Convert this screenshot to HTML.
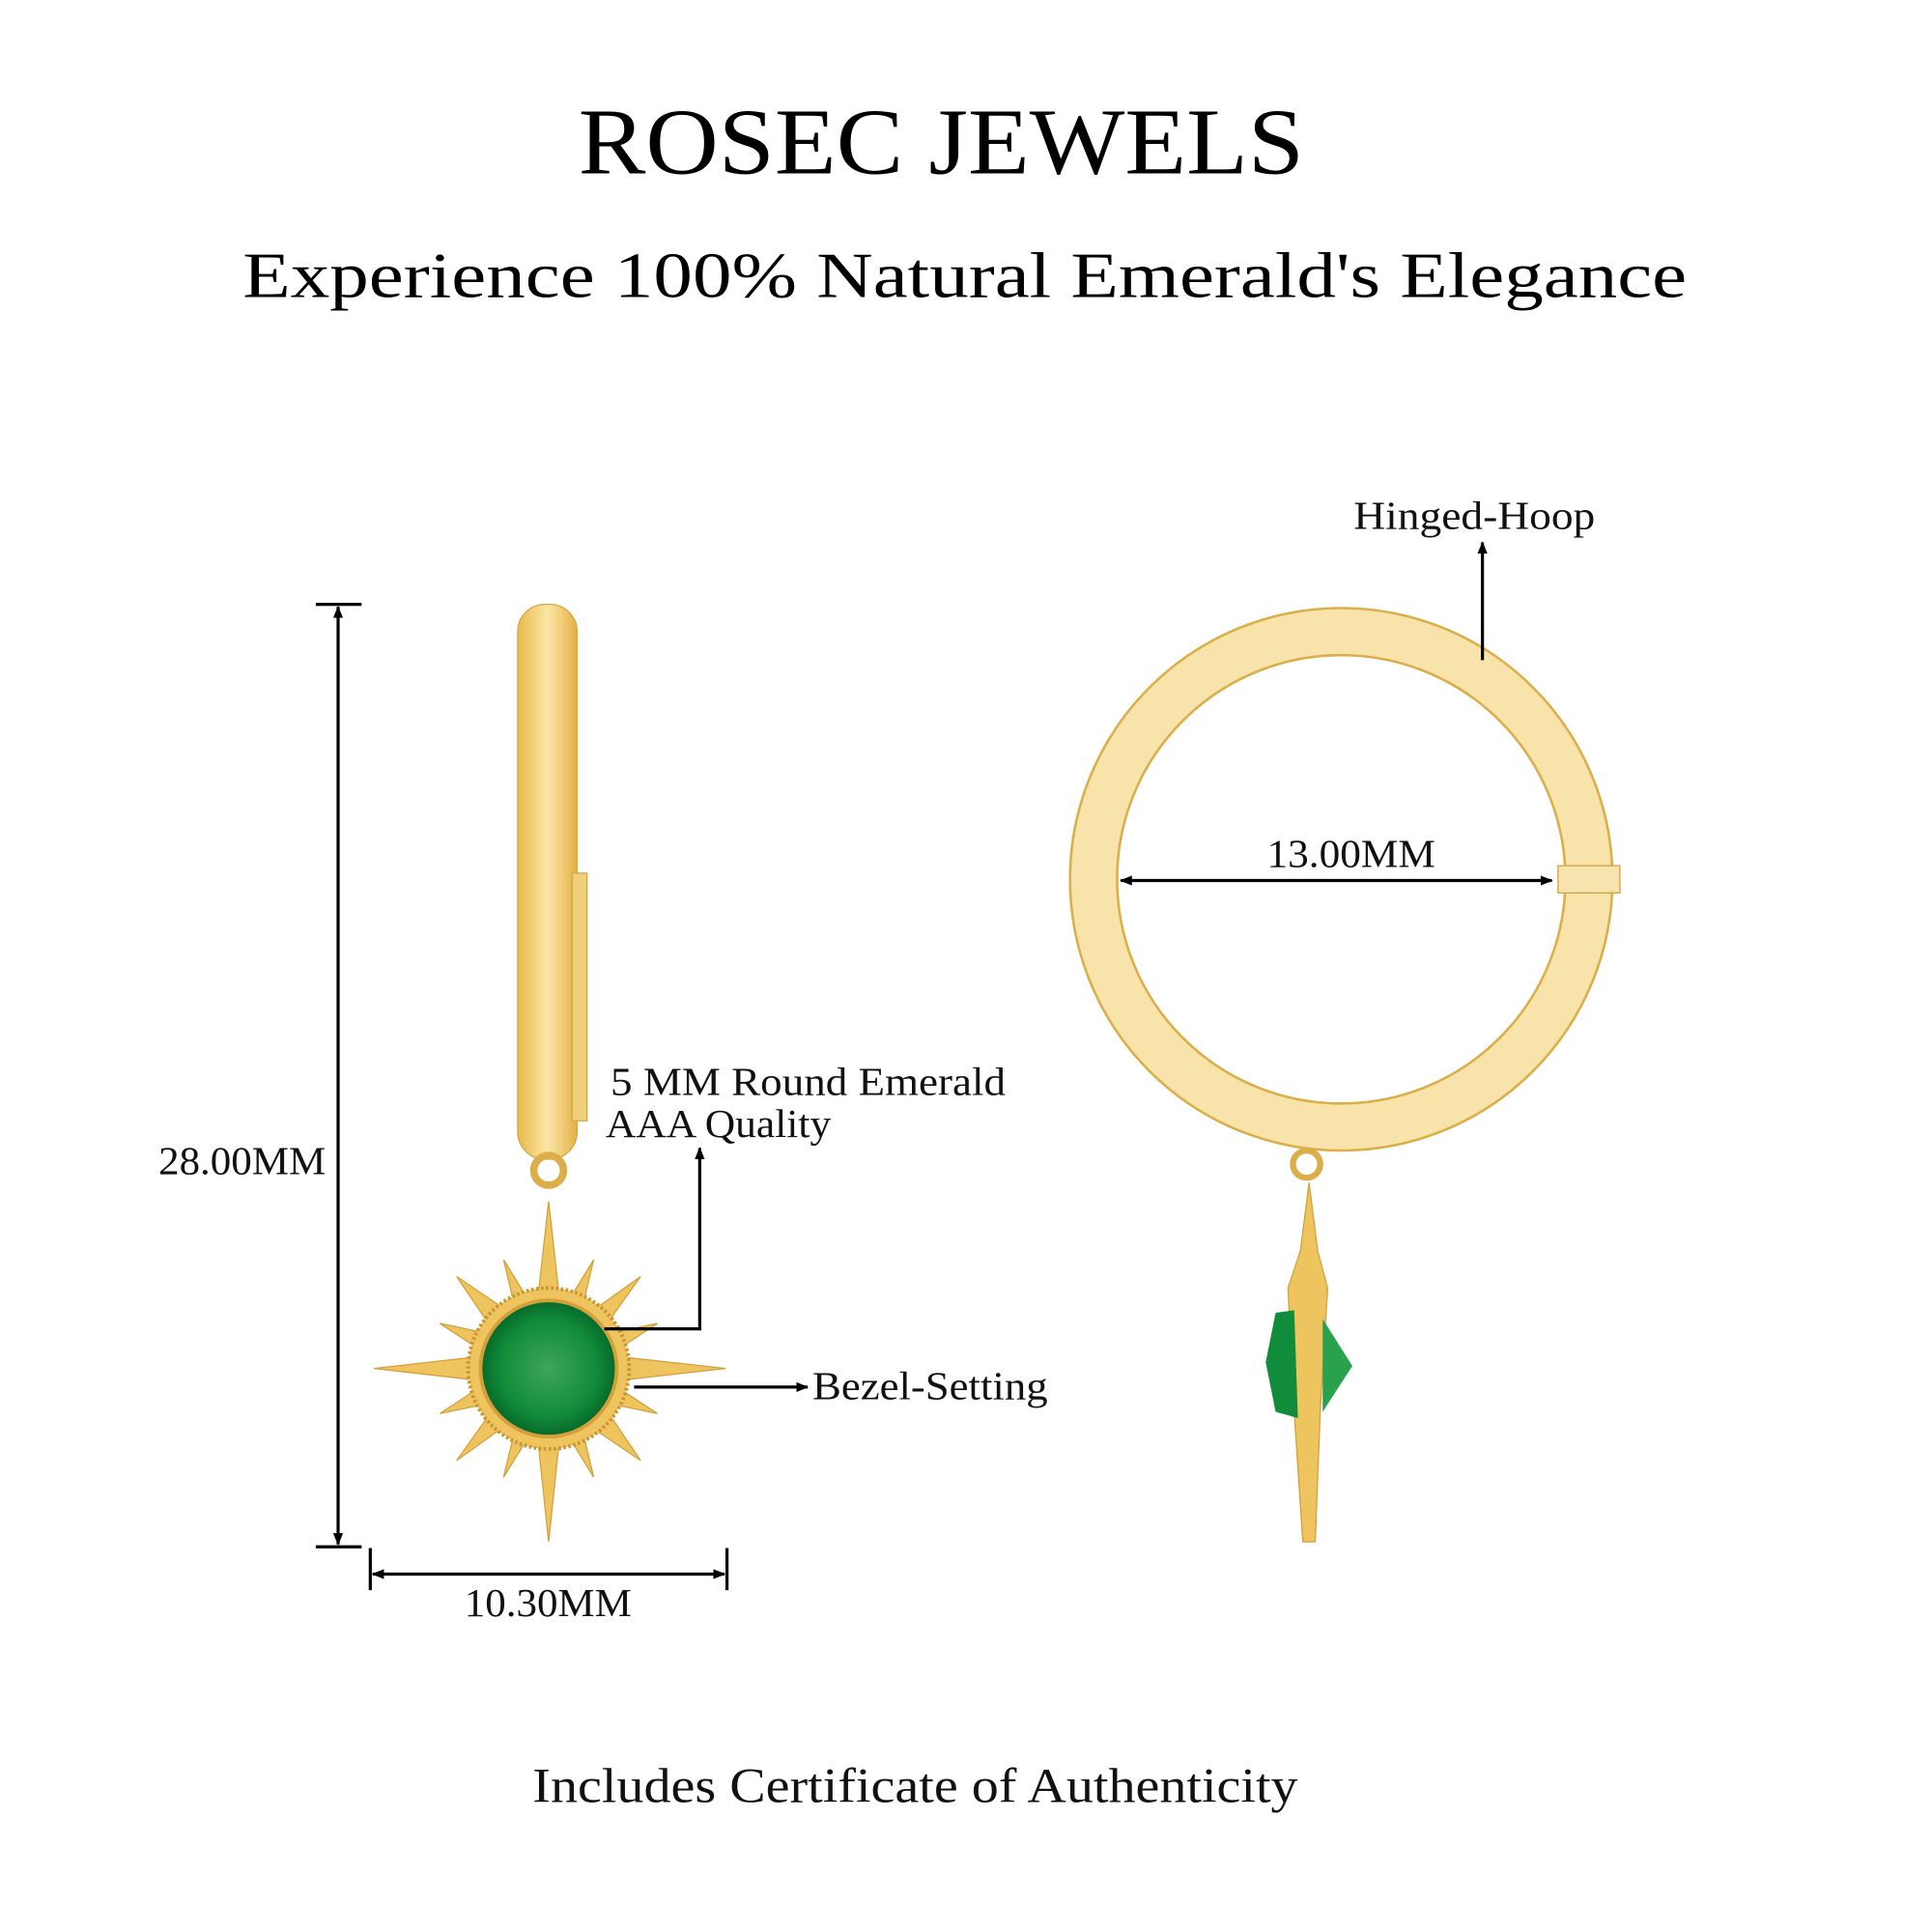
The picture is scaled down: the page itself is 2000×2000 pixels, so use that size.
<!DOCTYPE html>
<html><head><style>html,body{margin:0;padding:0;background:#fff}svg{display:block}</style></head><body>
<svg width="2000" height="2000" viewBox="0 0 1560 1560" xmlns="http://www.w3.org/2000/svg" font-family="'Liberation Serif', serif">
<defs>
<linearGradient id="g1" x1="0" x2="1"><stop offset="0" stop-color="#e9b94a"/><stop offset=".5" stop-color="#fbe6a6"/><stop offset="1" stop-color="#e3b045"/></linearGradient>
<radialGradient id="em"><stop offset="0" stop-color="#3fa55a"/><stop offset=".7" stop-color="#118c3a"/><stop offset="1" stop-color="#06682a"/></radialGradient>
<marker id="a" markerWidth="10" markerHeight="10" refX="9" refY="5" orient="auto-start-reverse" markerUnits="userSpaceOnUse"><path d="M0,1 L10,5 L0,9z" fill="#000"/></marker>
</defs>
<text x="467" y="140" font-size="76" textLength="586" lengthAdjust="spacingAndGlyphs">ROSEC JEWELS</text>
<text x="196" y="240" font-size="52" textLength="1166" lengthAdjust="spacingAndGlyphs">Experience 100% Natural Emerald's Elegance</text>

<!-- left hoop -->
<rect x="418" y="488" width="48" height="448" rx="22" fill="url(#g1)" stroke="#d9a640"/>
<rect x="462" y="705" width="12" height="200" fill="#f0cf7a" stroke="#d9a640"/>
<circle cx="443" cy="945" r="12" fill="none" stroke="#dcae4a" stroke-width="6"/>
<!-- sun -->
<g fill="#eec45e" stroke="#d4a03c" stroke-width="1">
<polygon points="443,970 433,1060 453,1060"/>
<polygon points="443,1245 433,1150 453,1150"/>
<polygon points="302,1105 390,1095 390,1115"/>
<polygon points="586,1105 496,1095 496,1115"/>
<g transform="rotate(45 443 1105)"><polygon points="443,1000 433,1060 453,1060"/><polygon points="443,1210 433,1150 453,1150"/><polygon points="338,1105 390,1095 390,1115"/><polygon points="548,1105 496,1095 496,1115"/></g>
<g transform="rotate(22.5 443 1105)"><polygon points="443,1010 435,1060 451,1060"/><polygon points="443,1200 435,1150 451,1150"/><polygon points="348,1105 390,1097 390,1113"/><polygon points="538,1105 496,1097 496,1113"/></g>
<g transform="rotate(-22.5 443 1105)"><polygon points="443,1010 435,1060 451,1060"/><polygon points="443,1200 435,1150 451,1150"/><polygon points="348,1105 390,1097 390,1113"/><polygon points="538,1105 496,1097 496,1113"/></g>
</g>
<circle cx="443" cy="1105" r="65" fill="#eec45e" stroke="#c99433" stroke-width="3" stroke-dasharray="2 2"/>
<circle cx="443" cy="1105" r="55" fill="url(#em)" stroke="#d4a03c" stroke-width="3"/>

<!-- right hoop -->
<circle cx="1083" cy="710" r="200" fill="none" stroke="#f8e4ab" stroke-width="38"/>
<circle cx="1083" cy="710" r="219" fill="none" stroke="#dcae4a" stroke-width="2"/>
<circle cx="1083" cy="710" r="181" fill="none" stroke="#dcae4a" stroke-width="2"/>
<rect x="1258" y="699" width="50" height="22" fill="#f6e3ae" stroke="#d4a03c"/>
<circle cx="1055" cy="940" r="11" fill="none" stroke="#dcae4a" stroke-width="5"/>
<polygon points="1057,955 1050,1010 1040,1040 1045,1140 1052,1245 1062,1245 1066,1140 1072,1040 1064,1010" fill="#eec45e" stroke="#d4a03c"/>
<polygon points="1030,1060 1045,1058 1048,1145 1030,1140 1022,1100" fill="#118c3a"/>
<polygon points="1068,1065 1092,1103 1068,1140" fill="#2aa14c"/>

<!-- dimension lines -->
<g stroke="#000" stroke-width="2.5" fill="none">
<line x1="255" y1="488" x2="292" y2="488"/><line x1="255" y1="1249" x2="292" y2="1249"/>
<line x1="273" y1="490" x2="273" y2="1247" marker-start="url(#a)" marker-end="url(#a)"/>
<line x1="299" y1="1250" x2="299" y2="1284"/><line x1="587" y1="1250" x2="587" y2="1284"/>
<line x1="301" y1="1271" x2="585" y2="1271" marker-start="url(#a)" marker-end="url(#a)"/>
<line x1="905" y1="711" x2="1253" y2="711" marker-start="url(#a)" marker-end="url(#a)"/>
<polyline points="488,1073 565,1073 565,927" marker-end="url(#a)"/>
<line x1="512" y1="1120" x2="652" y2="1120" marker-end="url(#a)"/>
<line x1="1197" y1="533" x2="1197" y2="438" marker-end="url(#a)"/>
</g>
<g font-size="32" fill="#111">
<text x="128" y="948" textLength="135" lengthAdjust="spacingAndGlyphs">28.00MM</text>
<text x="375" y="1305" textLength="135" lengthAdjust="spacingAndGlyphs">10.30MM</text>
<text x="1023" y="700" textLength="136" lengthAdjust="spacingAndGlyphs">13.00MM</text>
<text x="493" y="884" textLength="319" lengthAdjust="spacingAndGlyphs">5 MM Round Emerald</text>
<text x="489" y="918" textLength="182" lengthAdjust="spacingAndGlyphs">AAA Quality</text>
<text x="656" y="1130" textLength="190" lengthAdjust="spacingAndGlyphs">Bezel-Setting</text>
<text x="1093" y="427" textLength="195" lengthAdjust="spacingAndGlyphs">Hinged-Hoop</text>
<text x="430" y="1455" font-size="40" textLength="618" lengthAdjust="spacingAndGlyphs">Includes Certificate of Authenticity</text>
</g>
</svg>
</body></html>
